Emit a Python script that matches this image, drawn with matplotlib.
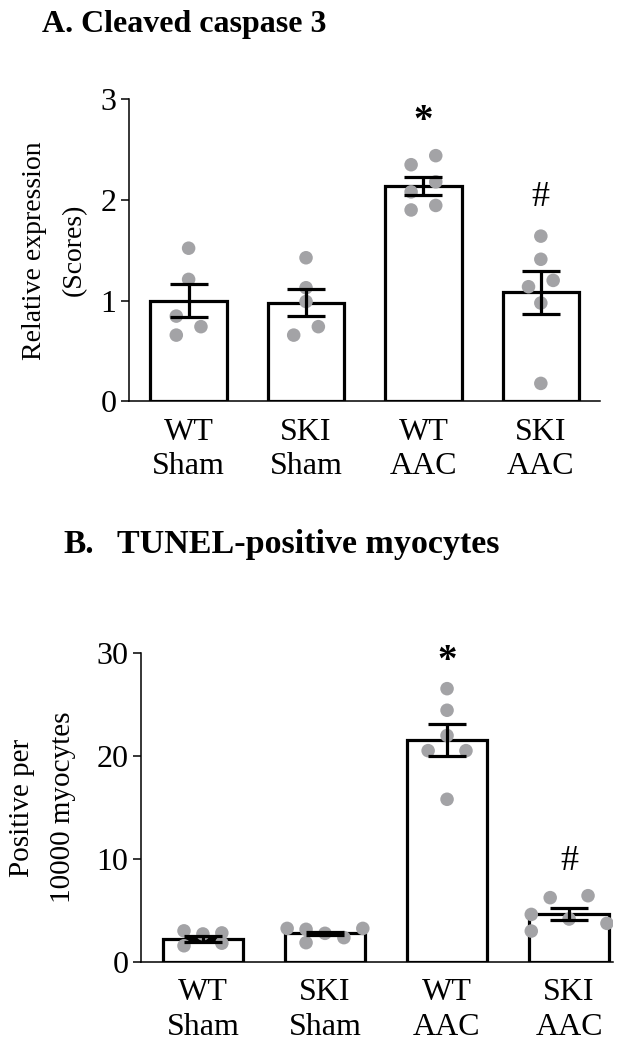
import matplotlib
matplotlib.use("Agg")
import matplotlib.pyplot as plt
import numpy as np

plt.rcParams["font.family"] = ["Liberation Serif", "DejaVu Serif"]

GROUPS = ["WT\nSham", "SKI\nSham", "WT\nAAC", "SKI\nAAC"]

# panel A: cleaved caspase 3 scores
A_MEAN = [1.00, 0.98, 2.14, 1.08]
A_SEM = [0.165, 0.135, 0.09, 0.21]
A_POINTS = [
    [1.52, 1.21, 0.845, 0.656, 0.74],
    [1.425, 1.127, 0.99, 0.656, 0.74],
    [2.35, 2.44, 2.08, 2.18, 1.90, 1.945],
    [1.64, 1.41, 1.137, 1.20, 0.975, 0.176],
]
A_JITTER = [
    [0, 0, -1, -1, 1],
    [0, 0, 0, -1, 1],
    [-1, 1, -1, 1, -1, 1],
    [0, 0, -1, 1, 0, 0],
]

# panel B: TUNEL-positive myocytes per 10000
B_MEAN = [2.2, 2.75, 21.6, 4.65]
B_SEM = [0.28, 0.18, 1.55, 0.58]
B_POINTS = [
    [3.0, 2.7, 2.8, 1.55, 1.8],
    [3.24, 3.15, 2.76, 2.34, 3.24, 1.85],
    [26.56, 24.46, 22.0, 20.53, 20.53, 15.8],
    [6.23, 6.42, 4.6, 4.15, 3.73, 2.98],
]
B_JITTER = [
    [-1, 0, 1, -1, 1],
    [-2, -1, 0, 1, 2, -1],
    [0, 0, 0, -1, 1, 0],
    [-1, 1, -2, 0, 2, -2],
]

DOT = "#a3a3a6"


def draw_panel(ax, means, sems, points, jitter, step, ylim, yticks):
    x = np.arange(len(means))
    ax.bar(x, means, width=0.65, color="white", edgecolor="black",
           linewidth=2.3, zorder=1)
    for i, (vals, jit) in enumerate(zip(points, jitter)):
        xs = i + np.array(jit) * step
        ax.scatter(xs, vals, s=95, color=DOT, edgecolor="none", zorder=2)
    ax.errorbar(x, means, yerr=sems, fmt="none", ecolor="black",
                elinewidth=2.3, capsize=14, capthick=2.3, zorder=3)
    ax.set_ylim(*ylim)
    ax.set_yticks(yticks)
    ax.set_xticks(x)
    ax.set_xticklabels(GROUPS, fontsize=23, linespacing=1.25)
    ax.tick_params(axis="x", length=0, pad=12)
    ax.tick_params(axis="y", labelsize=23, length=6, width=1.1, pad=3)
    for side in ["top", "right"]:
        ax.spines[side].set_visible(False)
    for side in ["left", "bottom"]:
        ax.spines[side].set_linewidth(1.1)


fig = plt.figure(figsize=(6.18, 10.5), dpi=100)

ax_a = fig.add_axes([0.2087, 0.618, 0.762, 0.2874])
draw_panel(ax_a, A_MEAN, A_SEM, A_POINTS, A_JITTER, 0.105, (0, 3), [0, 1, 2, 3])
ax_a.set_xlim(-0.508, 3.503)
ax_a.set_ylabel("Relative expression\n(Scores)", fontsize=20, linespacing=1.75,
                labelpad=10)
ax_a.text(2, 2.78, "*", ha="center", va="center", fontsize=28, fontweight="bold")
ax_a.text(3, 2.02, "#", ha="center", va="center", fontsize=26)

ax_b = fig.add_axes([0.228, 0.0841, 0.764, 0.2937])
draw_panel(ax_b, B_MEAN, B_SEM, B_POINTS, B_JITTER, 0.155, (0, 30), [0, 10, 20, 30])
ax_b.set_xlim(-0.508, 3.36)
ax_b.set_ylabel("Positive per\n10000 myocytes", fontsize=21, linespacing=1.75,
                labelpad=15)
ax_b.text(2, 29.2, "*", ha="center", va="center", fontsize=28, fontweight="bold")
ax_b.text(3, 9.7, "#", ha="center", va="center", fontsize=26)

fig.text(0.068, 1 - 32 / 1050, "A. Cleaved caspase 3", fontsize=23,
         fontweight="bold", ha="left", va="baseline")
fig.text(0.102, 1 - 553 / 1050, "B.", fontsize=24,
         fontweight="bold", ha="left", va="baseline")
fig.text(0.189, 1 - 553 / 1050, "TUNEL-positive myocytes", fontsize=24.5,
         fontweight="bold", ha="left", va="baseline")

fig.savefig("out.png", dpi=100)
